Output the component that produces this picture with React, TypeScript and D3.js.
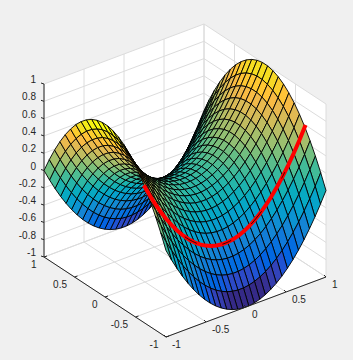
import React from "react";
import * as d3 from "d3";

const WIDTH = 353;
const HEIGHT = 360;
const xGrid = d3.range(0, 30).map((i) => -1 + (i * 2) / 29);
const yGrid = d3.range(0, 24).map((i) => -1 + (i * 2) / 23);
const xTicks = [-1, -0.5, 0, 0.5, 1];
const yTicks = [-1, -0.5, 0, 0.5, 1];
const zTicks = [-1, -0.8, -0.6, -0.4, -0.2, 0, 0.2, 0.4, 0.6, 0.8, 1];
const redY = yGrid[4];
const meshOverRed = [[-0.5, -0.35], [-0.03, 0.08], [0.33, 0.46], [0.71, 0.75]];
const parula = [
  [0.2081,0.1663,0.5292],[0.2116,0.1898,0.5777],[0.2123,0.2138,0.627],[0.2081,0.2386,0.6771],
  [0.1959,0.2645,0.7279],[0.1707,0.2919,0.7792],[0.1253,0.3242,0.8303],[0.0591,0.3598,0.8683],
  [0.0117,0.3875,0.882],[0.006,0.4086,0.8828],[0.0165,0.4266,0.8786],[0.0329,0.443,0.872],
  [0.0498,0.4586,0.8641],[0.0629,0.4737,0.8554],[0.0723,0.4887,0.8467],[0.0779,0.504,0.8384],
  [0.0793,0.52,0.8312],[0.0749,0.5375,0.8263],[0.0641,0.557,0.824],[0.0488,0.5772,0.8228],
  [0.0343,0.5966,0.8199],[0.0265,0.6137,0.8135],[0.0239,0.6287,0.8038],[0.0231,0.6418,0.7913],
  [0.0228,0.6535,0.7768],[0.0267,0.6642,0.7607],[0.0384,0.6743,0.7436],[0.059,0.6838,0.7254],
  [0.0843,0.6928,0.7062],[0.1133,0.7015,0.6859],[0.1453,0.7098,0.6646],[0.1801,0.7177,0.6424],
  [0.2178,0.725,0.6193],[0.2586,0.7317,0.5954],[0.3022,0.7376,0.5712],[0.3482,0.7424,0.5473],
  [0.3953,0.7459,0.5244],[0.442,0.7481,0.5033],[0.4871,0.7491,0.484],[0.53,0.7491,0.4661],
  [0.5709,0.7485,0.4494],[0.6099,0.7473,0.4337],[0.6473,0.7456,0.4188],[0.6834,0.7435,0.4044],
  [0.7184,0.7411,0.3905],[0.7525,0.7384,0.3768],[0.7858,0.7356,0.3633],[0.8185,0.7327,0.3498],
  [0.8507,0.7299,0.336],[0.8824,0.7274,0.3217],[0.9139,0.7258,0.3063],[0.945,0.7261,0.2886],
  [0.9739,0.7314,0.2666],[0.9938,0.7455,0.2403],[0.999,0.7653,0.2164],[0.9955,0.7861,0.1967],
  [0.988,0.8066,0.1794],[0.9789,0.8271,0.1633],[0.9697,0.8481,0.1475],[0.9626,0.8705,0.1309],
  [0.9589,0.8949,0.1132],[0.9598,0.9218,0.0948],[0.9661,0.9514,0.0755],[0.9763,0.9831,0.0538],
];

const ax = d3.scaleLinear().domain([-1, 1]).range([-80, 80]);
const ay = d3.scaleLinear().domain([-1, 1]).range([61, -61]);
const bx = d3.scaleLinear().domain([-1, 1]).range([30, -30]);
const by = d3.scaleLinear().domain([-1, 1]).range([40, -40]);
const bz = d3.scaleLinear().domain([-1, 1]).range([86.5, -86.5]);
const CX = 185;
const CY = 180.5;
const px = (x: number, y: number) => CX + ax(x) + ay(y);
const py = (x: number, y: number, z: number) => CY + bx(x) + by(y) + bz(z);
const P = (x: number, y: number, z: number) => [px(x, y), py(x, y, z)] as [number, number];
const surf = (x: number, y: number) => x * x - y * y;
const colorIndex = d3.scaleQuantize<number>().domain([-1, 1]).range(d3.range(64));
const colorOf = (z: number) => {
  const c = parula[colorIndex(z) ?? 0];
  return d3.rgb(c[0] * 255, c[1] * 255, c[2] * 255).formatHex();
};
const linePath = d3.line();
const GRID = "#dcdcdc";
const AXIS = "#262626";

function Seg({ a, b, stroke, w = 1 }: any) {
  return <line x1={a[0]} y1={a[1]} x2={b[0]} y2={b[1]} stroke={stroke} strokeWidth={w} />;
}

export default function App() {
  const quads: React.ReactNode[] = [];
  for (let j = xGrid.length - 2; j >= 0; j--) {
    for (let i = yGrid.length - 2; i >= 0; i--) {
      const x0 = xGrid[j], x1 = xGrid[j + 1], y0 = yGrid[i], y1 = yGrid[i + 1];
      const pts = [P(x0, y0, surf(x0, y0)), P(x1, y0, surf(x1, y0)), P(x1, y1, surf(x1, y1)), P(x0, y1, surf(x0, y1))];
      quads.push(
        <path key={`${j}-${i}`} d={linePath(pts) + "Z"} fill={colorOf(surf(x0, y0))} stroke="#000" strokeWidth={0.9} strokeLinejoin="round" />
      );
    }
  }
  const redPts = xGrid.map((x) => P(x, redY, surf(x, redY)));
  const hull = [P(-1, 1, 1), P(1, 1, 1), P(1, -1, 1), P(1, -1, -1), P(-1, -1, -1), P(-1, 1, -1)];
  return (
    <svg width={WIDTH} height={HEIGHT} style={{ position: "absolute", left: 0, top: 0, background: "#f0f0f0", fontFamily: "'Liberation Sans', sans-serif" }}>
      <path d={linePath(hull) + "Z"} fill="#fff" />
      {xTicks.map((t) => (
        <g key={`gx${t}`}>
          <Seg a={P(t, 1, -1)} b={P(t, 1, 1)} stroke={GRID} />
          <Seg a={P(t, 1, -1)} b={P(t, -1, -1)} stroke={GRID} />
        </g>
      ))}
      {yTicks.map((t) => (
        <g key={`gy${t}`}>
          <Seg a={P(1, t, -1)} b={P(1, t, 1)} stroke={GRID} />
          <Seg a={P(1, t, -1)} b={P(-1, t, -1)} stroke={GRID} />
        </g>
      ))}
      {zTicks.map((t) => (
        <g key={`gz${t}`}>
          <Seg a={P(-1, 1, t)} b={P(1, 1, t)} stroke={GRID} />
          <Seg a={P(1, 1, t)} b={P(1, -1, t)} stroke={GRID} />
        </g>
      ))}
      {quads}
      <path d={linePath(redPts) ?? ""} fill="none" stroke="#f00" strokeWidth={4} strokeLinecap="square" />
      {meshOverRed.map(([a, b]) => {
        const pts = d3.range(0, 7).map((k) => {
          const x = a + ((b - a) * k) / 6;
          return P(x, redY, surf(x, redY));
        });
        return <path key={a} d={linePath(pts) ?? ""} fill="none" stroke="#000" strokeWidth={0.8} />;
      })}
      <Seg a={P(-1, 1, -1)} b={P(-1, -1, -1)} stroke={AXIS} />
      <Seg a={P(-1, -1, -1)} b={P(1, -1, -1)} stroke={AXIS} />
      <Seg a={P(-1, 1, -1)} b={P(-1, 1, 1)} stroke={AXIS} />
      {zTicks.map((t) => {
        const p = P(-1, 1, t);
        return (
          <g key={`tz${t}`}>
            <Seg a={p} b={[p[0] - 3, p[1] - 1]} stroke={AXIS} />
            <text x={p[0] - 8} y={p[1] - 1} textAnchor="end" fontSize={10} fill={AXIS}>{t}</text>
          </g>
        );
      })}
      {xTicks.map((t) => {
        const p = P(t, -1, -1);
        return (
          <g key={`tx${t}`}>
            <Seg a={p} b={[p[0] - 2, p[1] - 2]} stroke={AXIS} />
            <text x={p[0] + 6} y={p[1] + 11} textAnchor="start" fontSize={10} fill={AXIS}>{t}</text>
          </g>
        );
      })}
      {yTicks.map((t) => {
        const p = P(-1, t, -1);
        return (
          <g key={`ty${t}`}>
            <Seg a={p} b={[p[0] + 3, p[1] - 1]} stroke={AXIS} />
            <text x={p[0] - 7.5} y={p[1] + 10.5} textAnchor="end" fontSize={10} fill={AXIS}>{t}</text>
          </g>
        );
      })}
    </svg>
  );
}
